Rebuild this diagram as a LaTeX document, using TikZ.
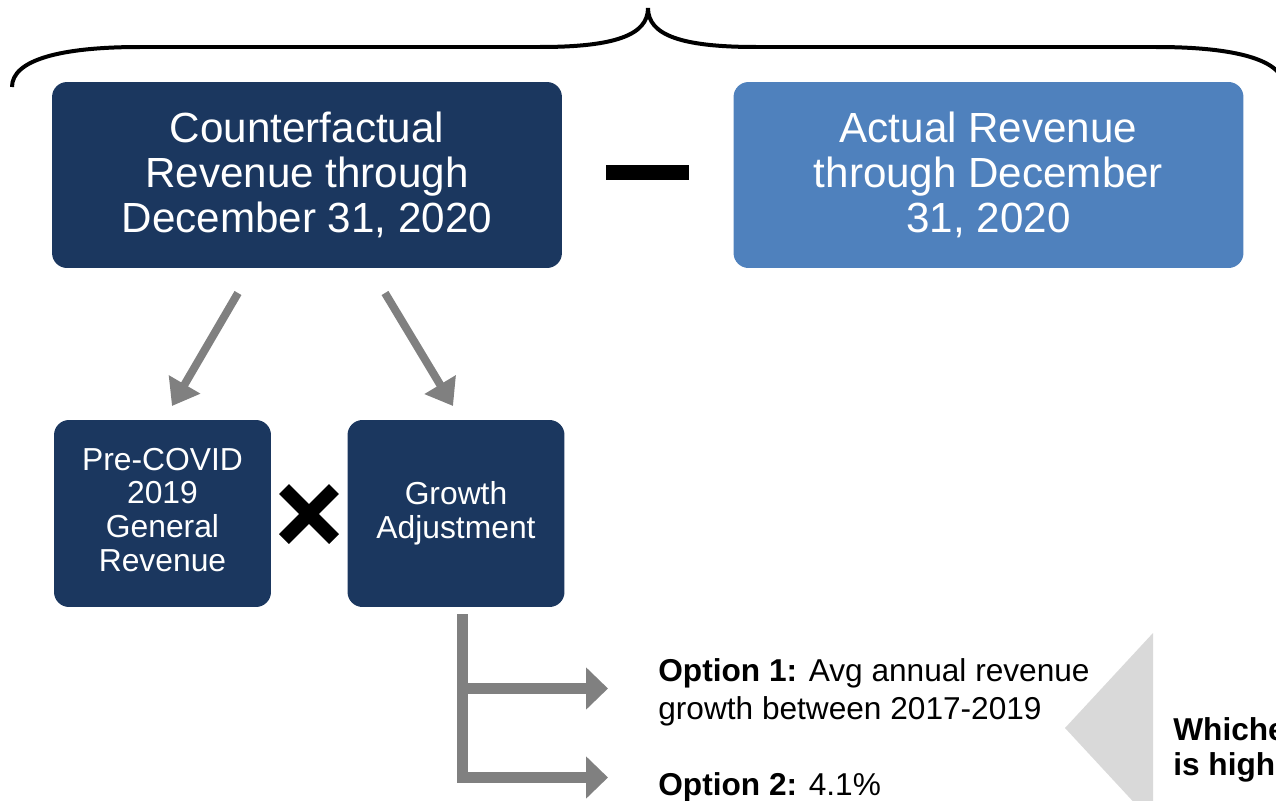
\documentclass[tikz,border=0pt]{standalone}
\usepackage{fontspec}
\setmainfont{Liberation Sans}
\usetikzlibrary{arrows.meta}
\definecolor{navy}{HTML}{1B375F}
\definecolor{skyblue}{HTML}{4F81BD}
\definecolor{arrowgray}{HTML}{808080}
\definecolor{wedgegray}{HTML}{D9D9D9}
\begin{document}
\begin{tikzpicture}
[x=0.02cm,y=-0.02cm,
 bigbox/.style={fill=navy,rounded corners=0.3cm,text=white,minimum width=10.2cm,minimum height=3.72cm,align=center,font=\fontsize{24}{25.5}\selectfont},
 smallbox/.style={fill=navy,rounded corners=0.3cm,text=white,minimum width=4.34cm,minimum height=3.74cm,align=center,font=\fontsize{18.1}{19.3}\selectfont},
 splitarrow/.style={draw=arrowgray,line width=0.16cm,-{Triangle[length=0.5cm,width=0.7cm]}},
 optarrow/.style={draw=arrowgray,line width=0.22cm,-{Triangle[length=0.44cm,width=0.82cm]}},
 optext/.style={anchor=west,align=left,inner sep=0pt,font=\fontsize{18}{21.5}\selectfont}]
\useasboundingbox (0,0) rectangle (1276,801);
\clip (0,0) rectangle (1276,801);

% brace over both boxes
\draw[line width=0.08cm] (12,87) .. controls (12,60) and (60,47) .. (140,47) -- (540,47)
  .. controls (615,47) and (648,35) .. (648,8) .. controls (648,35) and (681,47) .. (756,47)
  -- (1156,47) .. controls (1236,47) and (1284,60) .. (1284,87);

\node[bigbox] (cf) at (307,175) {Counterfactual\\Revenue through\\December 31, 2020};
\node[bigbox,fill=skyblue] (act) at (988.5,175) {Actual Revenue\\through December\\31, 2020};
\fill (606,165) rectangle (689,180);

\node[smallbox] (pre) at (162.5,513.5) {Pre-COVID\\2019\\General\\Revenue\vspace{4pt}};
\node[smallbox] (growth) at (456,513.5) {Growth\\Adjustment};
\draw[line width=0.28cm] (284,489) -- (334,539) (334,489) -- (284,539);

\coordinate (cfL) at (238,293);
\coordinate (cfR) at (385,293);
\coordinate (preT) at (172,406);
\coordinate (growthT) at (453,406);
\draw[splitarrow] (cfL) -- (preT);
\draw[splitarrow] (cfR) -- (growthT);

\coordinate (bar) at (462.5,614);
\coordinate (fork) at (457,688.5);
\coordinate (opt1) at (608,688.5);
\coordinate (opt2) at (608,777.5);
\draw[optarrow] (bar) |- (opt2);
\draw[optarrow] (fork) -- (opt1);

\node[optext] (o1) at (658,692) {\textbf{Option 1:} Avg annual revenue\\growth between 2017-2019};
\node[optext] (o2) at (658,787) {\textbf{Option 2:} 4.1\%};

\fill[wedgegray] (1153,633) -- (1065,728) -- (1153,823) -- cycle;
\node[optext,font=\bfseries\fontsize{18}{19.8}\selectfont] (pick) at (1173,750) {Whichever\\is higher};
\end{tikzpicture}
\end{document}
